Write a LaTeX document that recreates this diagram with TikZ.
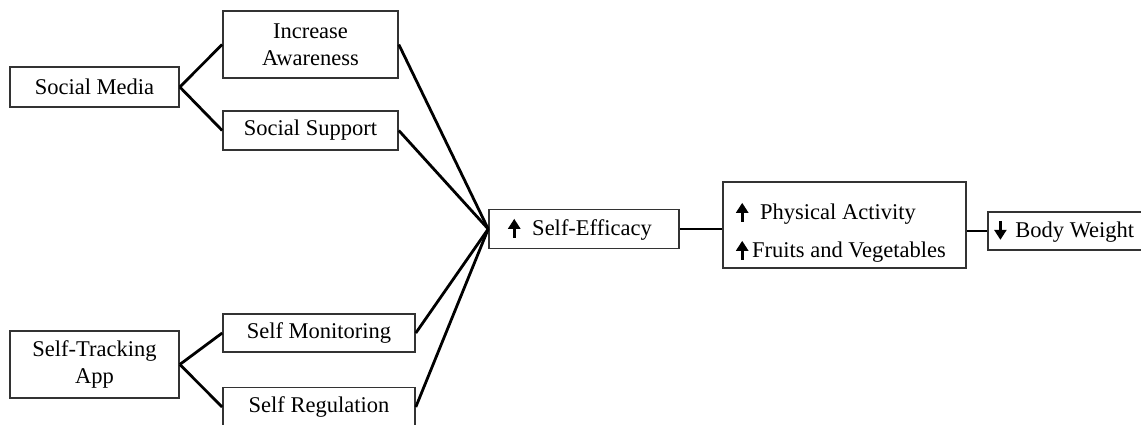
\documentclass[tikz,border=0pt]{standalone}
\usepackage{fontspec}
\usetikzlibrary{arrows.meta}
\setmainfont{Liberation Serif}
\newcommand{\upar}{\tikz[baseline=0pt]\draw[line width=3pt,-{Triangle[length=10pt,width=12pt]}] (0pt,-2pt) -- (0pt,17pt);}
\newcommand{\dnar}{\tikz[baseline=0pt]\draw[line width=3pt,-{Triangle[length=10pt,width=12pt]}] (0pt,17pt) -- (0pt,-2pt);}
\begin{document}
\begin{tikzpicture}[x=1pt,y=-1pt,
  box/.style={draw=black!80, line width=1.6pt, rectangle, inner sep=0pt, align=center,
    font=\fontsize{22.5}{27}\selectfont},
  txt/.style={inner sep=0pt, align=left, font=\fontsize{22.5}{27}\selectfont},
  conn/.style={line width=2.8pt, black}]
\useasboundingbox[fill=white] (0,0) rectangle (1141,425);
\node[box, minimum width=169pt, minimum height=40pt] (sm) at (94.5,87) {Social Media};
\node[box, minimum width=175pt, minimum height=67pt] (ia) at (310.5,44.5) {Increase\\Awareness};
\node[box, minimum width=175pt, minimum height=39pt] (ss) at (310.5,130.5) {Social Support};
\node[box, minimum width=169pt, minimum height=67pt] (st) at (94.5,364.5) {Self-Tracking\\App};
\node[box, minimum width=192pt, minimum height=38pt] (smo) at (319,333) {Self Monitoring};
\node[box, minimum width=192pt, minimum height=39pt] (sr) at (319,407) {Self Regulation};
\node[box, minimum width=190pt, minimum height=39pt] (se) at (584,229) {\upar\hspace{12pt}Self-Efficacy\hspace{8pt}};
\node[box, minimum width=243pt, minimum height=86pt] (pa) at (844.5,225) {};
\node[txt, anchor=west] (pat) at (736,232) {\upar\hspace{12pt}Physical Activity\\[11pt]\upar\hspace{4pt}Fruits and Vegetables};
\node[box, minimum width=160pt, minimum height=38pt, anchor=west] (bw) at (987,231) {\hspace{1pt}\dnar\hspace{9pt}Body Weight\hspace{8pt}};
\draw[conn] (sm.east) -- (ia.west);
\draw[conn] (sm.east) -- (ss.west);
\draw[conn] (st.east) -- (smo.west);
\draw[conn] (st.east) -- (sr.west);
\draw[conn] (ia.east) -- (se.west);
\draw[conn] (ss.east) -- (se.west);
\draw[conn] (smo.east) -- (se.west);
\draw[conn] (sr.east) -- (se.west);
\draw[conn] (se.east) -- (se.east -| pa.west);
\draw[conn] (bw.west -| pa.east) -- (bw.west);
\end{tikzpicture}
\end{document}
